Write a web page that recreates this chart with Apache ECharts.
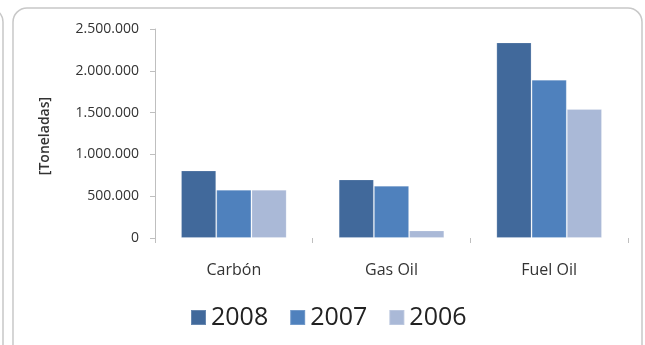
<!DOCTYPE html>
<html>
<head>
<meta charset="utf-8">
<script src="https://cdn.jsdelivr.net/npm/echarts@6/dist/echarts.min.js"></script>
<style>
    html, body { margin: 0; padding: 0; background: #fff; }
    #chart { width: 645px; height: 345px; }
</style>
</head>
<body>
<div id="chart"></div>
<script>
const categories = ['Carbón', 'Gas Oil', 'Fuel Oil'];
const years = ['2008', '2007', '2006'];
const values2008 = [808000, 701000, 2340000];
const values2007 = [578000, 626000, 1894000];
const values2006 = [578000, 91000, 1543000];
const yTicks = [0, 500000, 1000000, 1500000, 2000000, 2500000];
const colors = ['#41699b', '#4f81bd', '#aab9d7'];

const fmt = v => String(v).replace(/\B(?=(\d{3})+(?!\d))/g, '.');

const chartDom = document.getElementById('chart');
const myChart = echarts.init(chartDom);

const barSeries = (name, data, color) => ({
    name: name,
    type: 'bar',
    data: data,
    barGap: '0%',
    barCategoryGap: '33%',
    itemStyle: {
        color: color,
        borderColor: 'rgba(255,255,255,0.2)',
        borderWidth: 1
    }
});

const option = {
    animation: false,
    color: colors,
    textStyle: { fontFamily: 'Open Sans' },
    graphic: [
        {
            type: 'rect',
            shape: { x: 13, y: 8, width: 629, height: 380, r: 14 },
            style: { fill: 'none', stroke: '#c8c8c8', lineWidth: 1.5 }
        },
        {
            type: 'rect',
            shape: { x: -600, y: 8, width: 603, height: 380, r: 14 },
            style: { fill: 'none', stroke: '#c8c8c8', lineWidth: 1.5 }
        },
        {
            type: 'text',
            x: 45,
            y: 136,
            rotation: Math.PI / 2,
            style: {
                text: '[Toneladas]',
                fontFamily: 'Open Sans',
                fontSize: 14,
                fontWeight: 600,
                fill: '#333',
                align: 'center',
                verticalAlign: 'middle'
            }
        }
    ],
    grid: {
        left: 155,
        right: 17,
        top: 29,
        bottom: 107
    },
    legend: {
        data: years,
        left: 190,
        top: 305,
        padding: 0,
        itemWidth: 15,
        itemHeight: 15,
        itemGap: 21,
        icon: 'rect',
        textStyle: { fontSize: 25, color: '#222', fontFamily: 'Open Sans' }
    },
    xAxis: {
        type: 'category',
        data: categories,
        axisLine: { show: false },
        axisTick: {
            show: true,
            length: 5,
            lineStyle: { color: '#bfbfbf' }
        },
        axisLabel: {
            margin: 24,
            fontSize: 16,
            color: '#333'
        }
    },
    yAxis: {
        type: 'value',
        min: 0,
        max: 2500000,
        interval: 500000,
        axisLine: { show: true, lineStyle: { color: '#bfbfbf' } },
        axisTick: { show: true, length: 5, lineStyle: { color: '#bfbfbf' } },
        splitLine: { show: false },
        axisLabel: {
            margin: 16,
            fontSize: 14,
            color: '#333',
            formatter: v => yTicks.includes(v) ? fmt(v) : ''
        }
    },
    series: [
        barSeries(years[0], values2008, colors[0]),
        barSeries(years[1], values2007, colors[1]),
        barSeries(years[2], values2006, colors[2])
    ]
};
myChart.setOption(option);
</script>
</body>
</html>
